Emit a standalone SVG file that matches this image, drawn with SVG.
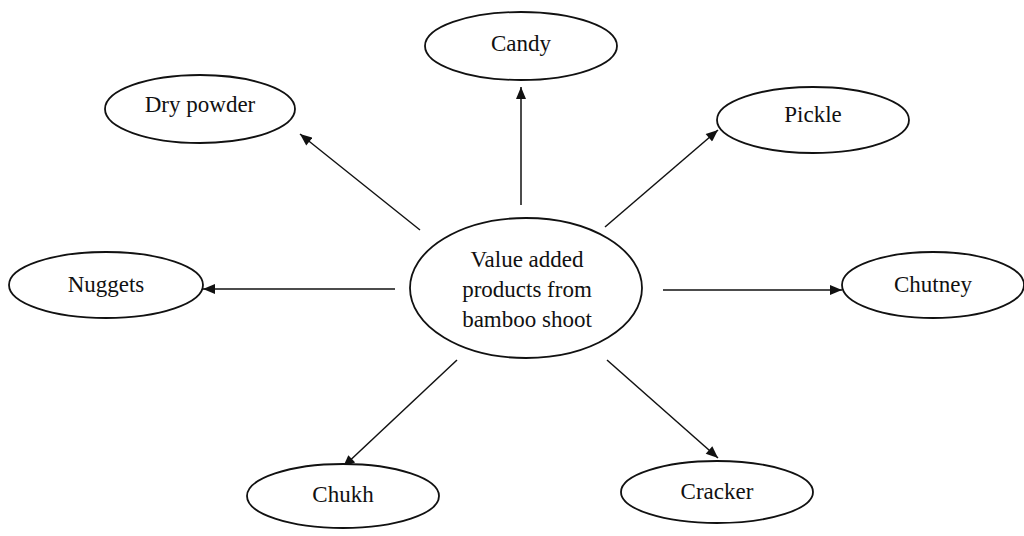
<svg xmlns="http://www.w3.org/2000/svg" width="1024" height="536" viewBox="0 0 1024 536">
<style>
.node ellipse{fill:#fff;stroke:#111;stroke-width:1.8}
.node text{font-family:"Liberation Serif","Times New Roman",serif;font-size:23px;fill:#111;text-anchor:middle}
.edges line{stroke:#111;stroke-width:1.5}
</style>
<defs>
<marker id="ah" viewBox="0 0 12 10" refX="12" refY="5" markerWidth="13" markerHeight="10" markerUnits="userSpaceOnUse" orient="auto">
<path d="M0,0 L12,5 L0,10 z" fill="#111"/>
</marker>
</defs>
<rect width="1024" height="536" fill="#fff"/>
<g class="edges">
<line x1="521" y1="205" x2="521" y2="87" marker-end="url(#ah)"/>
<line x1="420" y1="230" x2="300" y2="134" marker-end="url(#ah)"/>
<line x1="605" y1="227" x2="718" y2="130" marker-end="url(#ah)"/>
<line x1="395" y1="289" x2="203" y2="289" marker-end="url(#ah)"/>
<line x1="663" y1="290" x2="842" y2="290" marker-end="url(#ah)"/>
<line x1="457" y1="360" x2="343" y2="467" marker-end="url(#ah)"/>
<line x1="607" y1="360" x2="718" y2="458" marker-end="url(#ah)"/>
</g>
<g id="center" class="node">
<ellipse cx="526" cy="288" rx="116" ry="70"/>
<text x="527" y="267">Value added</text>
<text x="527" y="297">products from</text>
<text x="527" y="327">bamboo shoot</text>
</g>
<g id="candy" class="node">
<ellipse cx="521" cy="46" rx="96" ry="34"/>
<text x="521" y="51">Candy</text>
</g>
<g id="drypowder" class="node">
<ellipse cx="200" cy="109" rx="95" ry="34"/>
<text x="200" y="112">Dry powder</text>
</g>
<g id="pickle" class="node">
<ellipse cx="813" cy="120" rx="96" ry="33"/>
<text x="813" y="122">Pickle</text>
</g>
<g id="nuggets" class="node">
<ellipse cx="106" cy="285" rx="97" ry="33"/>
<text x="106" y="292">Nuggets</text>
</g>
<g id="chutney" class="node">
<ellipse cx="933" cy="285" rx="91" ry="33"/>
<text x="933" y="292">Chutney</text>
</g>
<g id="chukh" class="node">
<ellipse cx="343" cy="496" rx="96" ry="32"/>
<text x="343" y="502">Chukh</text>
</g>
<g id="cracker" class="node">
<ellipse cx="717" cy="492" rx="96" ry="31"/>
<text x="717" y="499">Cracker</text>
</g>
</svg>
